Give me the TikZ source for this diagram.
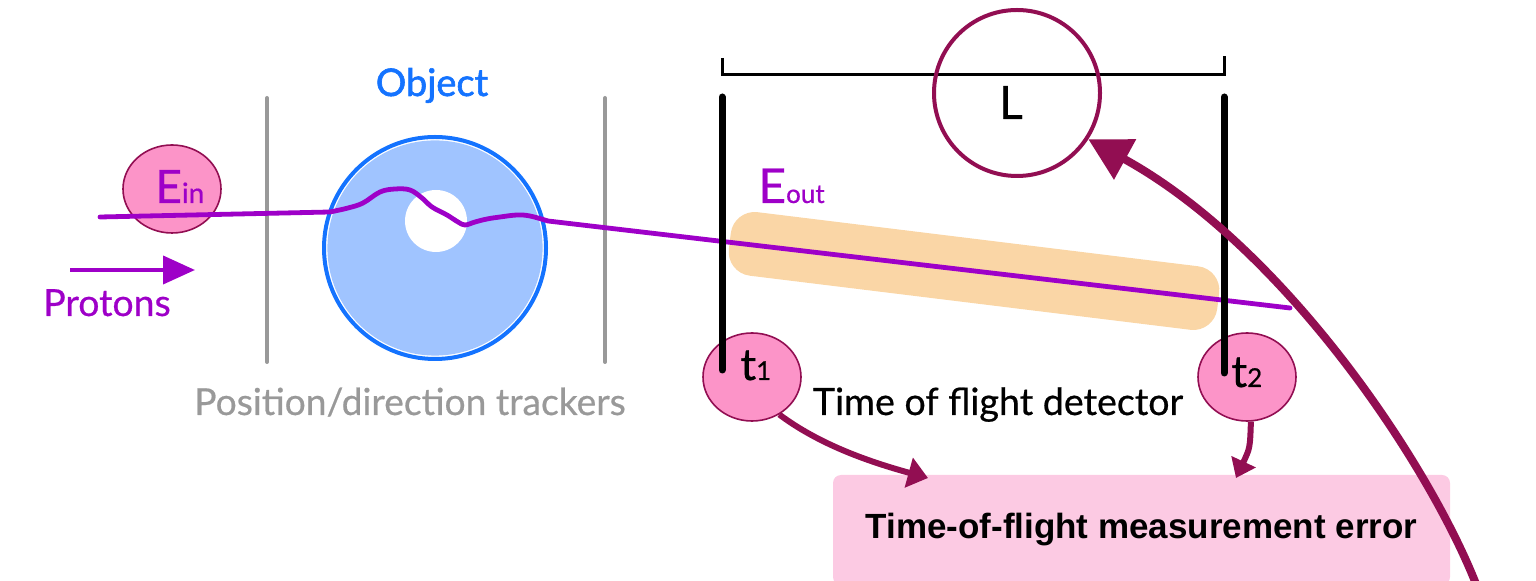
\documentclass[tikz,border=0pt]{standalone}
\usepackage{fontspec}
\setmainfont{Lato}[FakeBold=0.6]
\newfontfamily\headfont{Lato}[FakeBold=1.6]
\newfontfamily\boxfont{Liberation Sans}
\usetikzlibrary{arrows.meta,shapes.geometric}
\definecolor{beamviolet}{RGB}{158,0,200}
\definecolor{wine}{RGB}{146,14,82}
\definecolor{bubble}{RGB}{252,148,200}
\definecolor{boxpink}{RGB}{252,202,227}
\definecolor{ringblue}{RGB}{20,115,255}
\definecolor{discblue}{RGB}{160,196,255}
\definecolor{bandorange}{RGB}{250,214,166}
\definecolor{trkgray}{RGB}{153,153,153}
\newcommand{\fs}[1]{\fontsize{#1}{#1}\selectfont}
\tikzset{
  trackerbar/.style={draw=trkgray, line width=2pt, line cap=round},
  tofbar/.style={draw=black, line width=3.5pt, line cap=round},
  bubblenode/.style={ellipse, fill=bubble, draw=wine, line width=0.8pt,
    minimum width=49pt, minimum height=44pt, inner sep=0pt},
  beam/.style={draw=beamviolet, line width=2.4pt, line cap=round, line join=round},
  lbl/.style={inner sep=0pt, anchor=base west},
  clbl/.style={inner sep=0pt, anchor=base},
  link/.style={draw=wine, line width=3pt, -{Triangle[length=10pt,width=15pt]}},
  shortlink/.style={draw=wine, line width=3pt, -{Triangle[length=9pt,width=13pt]}},
  biglink/.style={draw=wine, line width=4pt, -{Triangle[length=21pt,width=22pt]}},
}
\begin{document}
\begin{tikzpicture}[x=0.5pt,y=-0.5pt]
\useasboundingbox (0,0) rectangle (1536,581);

% time-of-flight path band
\node[fill=bandorange, rounded corners=12pt, minimum width=246pt, minimum height=32pt,
      rotate=-7, inner sep=0pt] (band) at (974,271) {};

% position/direction trackers
\draw[trackerbar] (267,98) -- (267,362);
\draw[trackerbar] (605,98) -- (605,362);
\node[clbl, text=trkgray] (trklbl) at (410,415) {\fs{18.6}Position/direction trackers};

% object under study
\fill[discblue] (435,248) circle (53.8pt);
\draw[ringblue, line width=2pt] (435,248) circle (55.5pt);
\fill[white] (436,221) circle (15.5pt);
\node[clbl, text=ringblue] (objlbl) at (432,96) {\headfont\fs{19}Object};

% incoming energy
\node[bubblenode] (ein) at (172,189) {};
\node[lbl, text=beamviolet] (eintxt) at (155,203) {\fs{23}E\fs{14}in};

% proton track
\draw[beam] (100,217) -- (330,212)
  -- plot[smooth, tension=0.6] coordinates {(330,212) (348,208) (363,203) (380,192) (395,189)
     (410,190) (422,198) (432,207) (447,215) (458,222) (465,225) (475,222) (487,219)
     (500,217) (517,215) (530,216) (548,221)}
  -- (1290,308);

% beam direction
\coordinate (pa) at (70,270);
\coordinate (pb) at (195,270);
\draw[draw=beamviolet, line width=2pt, -{Triangle[length=16pt,width=14pt]}] (pa) -- (pb);
\node[clbl, text=beamviolet] (protlbl) at (107,316) {\fs{18.7}Protons};

% time-of-flight detector
\node[bubblenode] (t1) at (752,377) {};
\node[bubblenode] (t2) at (1247,377) {};
\draw[tofbar] (722,97) -- (722,370);
\draw[tofbar] (1224,97) -- (1224,373);
\node[lbl] (t1txt) at (740,380) {\fs{22}t\fs{13}1};
\node[lbl] (t2txt) at (1231,387) {\fs{22}t\fs{13}2};
\node[lbl, text=beamviolet] (eouttxt) at (758,203) {\fs{24}E\fs{13}out};
\node[clbl] (toflbl) at (998,415) {\fs{18.8}Time of flight detector};

% flight length
\draw[line width=1.5pt] (722,58) -- (722,75) -- (1224,75) -- (1224,56);
\node[circle, draw=wine, line width=2pt, minimum size=83pt, inner sep=0pt] (lring) at (1017,93) {};
\node[clbl] (ltxt) at (1011,119) {\fs{23}L};

% measurement error
\node[fill=boxpink, rounded corners=4pt, minimum width=308.5pt, minimum height=55pt,
      inner sep=0pt, font=\boxfont\bfseries\fs{17.5}] (errbox) at (1141.5,530)
      {Time-of-flight measurement error};
\coordinate (e1) at (928,478);
\coordinate (e2) at (1236,478);
\draw[link] (t1.-54) .. controls (820,445) and (870,462) .. (e1);
\draw[shortlink] (t2.-85) .. controls (1250,448) .. (e2);

% error feeding back into the length
\coordinate (bigstart) at (1482,600);
\draw[biglink] (bigstart) .. controls (1440,480) and (1290,250) .. (lring.-33);
\end{tikzpicture}
\end{document}
